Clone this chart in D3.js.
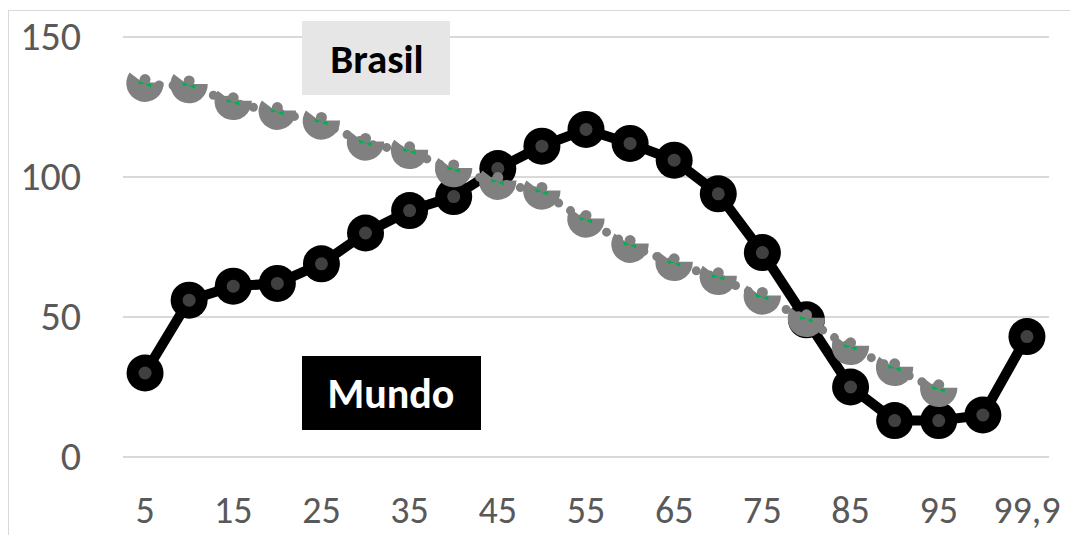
<!DOCTYPE html>
<html>
<head>
<meta charset="utf-8">
<script src="https://cdn.jsdelivr.net/npm/d3@7"></script>
<style>
  body { margin: 0; background: #fff; }
  svg text { font-family: Carlito, Calibri, Lato, sans-serif; }
</style>
</head>
<body>
<div id="chart"></div>
<script>
// Categories (percentiles) and tick labels
const categories = ['5', '10', '15', '20', '25', '30', '35', '40', '45', '50',
    '55', '60', '65', '70', '75', '80', '85', '90', '95', '99', '99,9'];
const shownLabels = ['5', '15', '25', '35', '45', '55', '65', '75', '85', '95', '99,9'];
const yTicks = [0, 50, 100, 150];

// Series values
const mundo = [30, 56, 61, 62, 69, 80, 88, 93, 103, 111,
    117, 112, 106, 94, 73, 49, 25, 13, 13, 15, 43];
const brasil = [133, 132.5, 126.5, 123, 119.5, 112, 109, 102.5, 98, 94.5,
    84.5, 75.5, 69, 64, 57, 49, 39, 31.5, 24];

const width = 1070, height = 535;
const margin = { top: 37, right: 21, bottom: 78, left: 123 };

const svg = d3.select('#chart').append('svg')
    .attr('width', width)
    .attr('height', height);

// Outer chart border (only top and left edges are visible)
svg.append('rect')
    .attr('x', 8.5).attr('y', 10.5)
    .attr('width', 1100).attr('height', 600)
    .attr('fill', 'none')
    .attr('stroke', '#d9d9d9')
    .attr('stroke-width', 1);

const x = d3.scaleBand()
    .domain(categories)
    .range([margin.left, width - margin.right]);

const y = d3.scaleLinear()
    .domain([0, 150])
    .range([height - margin.bottom, margin.top]);

const cx = d => x(d) + x.bandwidth() / 2;

// Gridlines
svg.append('g')
    .selectAll('line')
    .data(yTicks)
    .join('line')
    .attr('x1', margin.left)
    .attr('x2', width - margin.right)
    .attr('y1', d => y(d))
    .attr('y2', d => y(d))
    .attr('stroke', '#d9d9d9')
    .attr('stroke-width', 2);

// Y axis labels
const yAxis = d3.axisLeft(y).tickValues(yTicks).tickSize(0).tickPadding(42);
svg.append('g')
    .attr('transform', `translate(${margin.left}, 0)`)
    .call(yAxis)
    .call(g => g.select('.domain').remove())
    .call(g => g.selectAll('text')
        .attr('fill', '#595959')
        .attr('font-size', 40)
        .style('font-family', 'Carlito, Calibri, Lato, sans-serif'));

// X axis labels
const xAxis = d3.axisBottom(x).tickValues(shownLabels).tickSize(0).tickPadding(39);
svg.append('g')
    .attr('transform', `translate(0, ${y(0)})`)
    .call(xAxis)
    .call(g => g.select('.domain').remove())
    .call(g => g.selectAll('text')
        .attr('fill', '#595959')
        .attr('font-size', 38)
        .style('font-family', 'Carlito, Calibri, Lato, sans-serif'));

// Mundo series: thick black line with big round markers
const mundoData = mundo.map((v, i) => ({ c: categories[i], v }));
const line = d3.line()
    .x(d => cx(d.c))
    .y(d => y(d.v));

svg.append('path')
    .datum(mundoData)
    .attr('d', line)
    .attr('fill', 'none')
    .attr('stroke', '#000')
    .attr('stroke-width', 10)
    .attr('stroke-linejoin', 'round');

const mundoPts = svg.append('g')
    .selectAll('g')
    .data(mundoData)
    .join('g')
    .attr('transform', d => `translate(${cx(d.c)}, ${y(d.v)})`);
mundoPts.append('circle').attr('r', 18.5).attr('fill', '#000');
mundoPts.append('circle').attr('r', 6.5).attr('fill', '#404040');

// Brasil series: grey dotted line with notched grey markers
const brasilData = brasil.map((v, i) => ({ c: categories[i], v }));

svg.append('path')
    .datum(brasilData)
    .attr('d', line)
    .attr('fill', 'none')
    .attr('stroke', '#808080')
    .attr('stroke-width', 9)
    .attr('stroke-linecap', 'round')
    .attr('stroke-dasharray', '0 14');

const brasilPts = svg.append('g')
    .selectAll('g')
    .data(brasilData)
    .join('g')
    .attr('transform', d => `translate(${cx(d.c)}, ${y(d.v)})`);
brasilPts.append('path')
    .attr('d', 'M18.6,-2 A18.7,18.7 0 1 1 -15.5,-12 L-5,-4 L0,-2 Z')
    .attr('fill', '#808080');
brasilPts.append('circle')
    .attr('cy', -5).attr('r', 5.5)
    .attr('fill', '#808080');
brasilPts.append('path')
    .attr('d', 'M-7,-4 L0,-1 L-6,0 Z M6,3 L0,0 L6,-1.5 Z')
    .attr('fill', '#00b050');

// Series labels
svg.append('rect')
    .attr('x', 302).attr('y', 21)
    .attr('width', 148).attr('height', 74)
    .attr('fill', '#e6e6e6');
svg.append('text')
    .attr('x', 377).attr('y', 73)
    .attr('text-anchor', 'middle')
    .attr('font-size', 41)
    .attr('font-weight', 'bold')
    .attr('fill', '#000')
    .text('Brasil');

svg.append('rect')
    .attr('x', 302).attr('y', 356)
    .attr('width', 179).attr('height', 74)
    .attr('fill', '#000');
svg.append('text')
    .attr('x', 391).attr('y', 408)
    .attr('text-anchor', 'middle')
    .attr('font-size', 42)
    .attr('font-weight', 'bold')
    .attr('fill', '#fff')
    .text('Mundo');
</script>
</body>
</html>
